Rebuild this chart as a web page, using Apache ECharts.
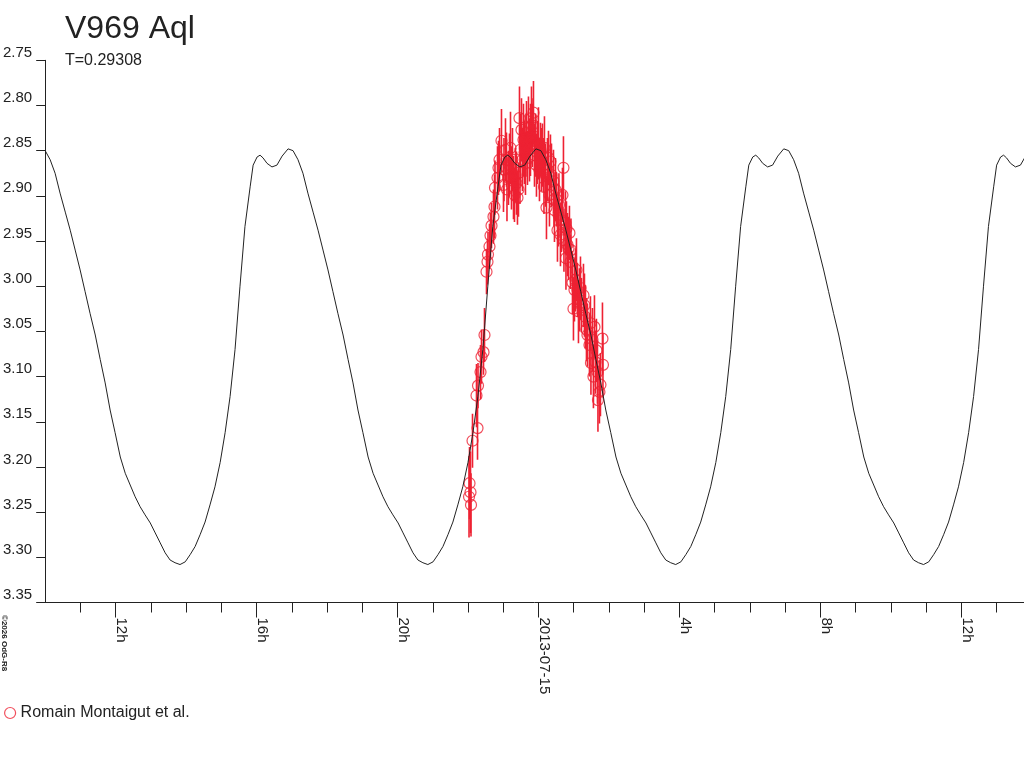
<!DOCTYPE html>
<html>
<head>
<meta charset="utf-8">
<title>V969 Aql</title>
<script src="https://cdn.jsdelivr.net/npm/echarts@6.0.0/dist/echarts.min.js"></script>
<style>
html,body{margin:0;padding:0;background:#fff;}
#chart{width:1024px;height:768px;}
</style>
</head>
<body>
<div id="chart"></div>
<script>
// time axis in hours UT counted from 2013-07-14 0h
var xMin = 10, xMax = 37.78;
var majorTicks = [12, 16, 20, 24, 28, 32, 36];
var majorLabels = ['12h', '16h', '20h', '2013-07-15', '4h', '8h', '12h'];

// model light curve, one cycle (phase 0 at 10h)
var periodDays = 0.29308;
var epoch = 10;
var modelPhase = [0, .020, .040, .060, .081, .101, .121, .141, .161, .181,
	.202, .222, .242, .262, .282, .303, .323, .343, .363, .383,
	.403, .424, .444, .464, .484, .504, .524, .544, .565, .585,
	.605, .625, .645, .665, .685, .706, .726, .746, .766, .786,
	.806, .827, .839, .855, .867, .879, .895, .915, .935, .956, .980];
var modelMag = [2.850, 2.860, 2.875, 2.897, 2.918, 2.938, 2.960, 2.982, 3.006, 3.030,
	3.054, 3.081, 3.107, 3.137, 3.162, 3.189, 3.207, 3.220, 3.233, 3.244,
	3.253, 3.262, 3.273, 3.284, 3.295, 3.303, 3.306, 3.308, 3.305, 3.297,
	3.288, 3.275, 3.261, 3.242, 3.222, 3.195, 3.162, 3.122, 3.070, 3.000,
	2.934, 2.890, 2.866, 2.857, 2.855, 2.858, 2.864, 2.868, 2.866, 2.856, 2.848];

// observations (Romain Montaigut et al.)
var obsTime = [22.043, 22.071, 22.085, 22.029, 22.128, 22.270, 22.241, 22.284, 22.355, 22.383,
	22.440, 22.468, 22.525, 22.553, 22.567, 22.610, 22.638, 22.667, 22.723, 22.752,
	22.766, 22.837, 22.865, 22.894, 22.950, 23.007, 23.021, 23.064, 23.092, 23.106,
	23.149, 23.177, 23.206, 23.234, 23.262, 23.291, 23.319, 23.348, 23.376, 23.404,
	23.433, 23.461, 23.475, 23.489, 23.518, 23.546, 23.574, 23.603, 23.631, 23.645,
	23.660, 23.688, 23.716, 23.745, 23.773, 23.801, 23.815, 23.830, 23.858, 23.887,
	23.915, 23.943, 23.972, 24.000, 24.028, 24.057, 24.085, 24.113, 24.142, 24.156,
	24.170, 24.199, 24.227, 24.255, 24.284, 24.312, 24.340, 24.369, 24.426, 24.440,
	24.454, 24.482, 24.511, 24.539, 24.567, 24.581, 24.624, 24.652, 24.681, 24.709,
	24.723, 24.766, 24.780, 24.794, 24.823, 24.851, 24.879, 24.908, 24.922, 24.965,
	24.993, 25.021, 25.050, 25.078, 25.106, 25.135, 25.163, 25.192, 25.220, 25.277,
	25.305, 25.333, 25.362, 25.390, 25.447, 25.475, 25.489, 25.532, 25.560, 25.589,
	25.617, 25.645, 25.674, 25.688, 25.730, 25.759, 25.816, 25.830];
var obsMag = [3.218, 3.228, 3.242, 3.233, 3.171, 3.157, 3.121, 3.110, 3.095, 3.078,
	3.073, 3.054, 2.984, 2.973, 2.965, 2.956, 2.944, 2.933, 2.923, 2.912,
	2.891, 2.880, 2.869, 2.860, 2.839, 2.888, 2.871, 2.849, 2.860, 2.893,
	2.880, 2.866, 2.847, 2.880, 2.860, 2.891, 2.899, 2.877, 2.886, 2.902,
	2.893, 2.814, 2.874, 2.849, 2.827, 2.860, 2.838, 2.852, 2.864, 2.844,
	2.830, 2.858, 2.825, 2.849, 2.838, 2.814, 2.822, 2.833, 2.808, 2.855,
	2.844, 2.866, 2.852, 2.842, 2.871, 2.849, 2.860, 2.855, 2.866, 2.890,
	2.847, 2.877, 2.913, 2.871, 2.858, 2.899, 2.862, 2.877, 2.884, 2.904,
	2.916, 2.893, 2.904, 2.938, 2.921, 2.910, 2.943, 2.927, 2.899, 2.869,
	2.949, 2.930, 2.969, 2.936, 2.954, 2.958, 2.941, 2.973, 2.960, 2.996,
	3.025, 3.004, 2.993, 2.982, 3.004, 3.028, 3.015, 3.002, 3.021, 3.010,
	3.021, 3.034, 3.048, 3.054, 3.065, 3.041, 3.085, 3.059, 3.100, 3.045,
	3.084, 3.071, 3.095, 3.126, 3.117, 3.109, 3.058, 3.087];
var obsErr = [.040, .045, .035, .045, .030, .035, .035, .025, .030, .030,
	.025, .030, .025, .025, .025, .025, .025, .025, .030, .035,
	.030, .035, .030, .035, .035, .030, .035, .035, .030, .035,
	.030, .035, .040, .035, .035, .035, .030, .030, .035, .030,
	.030, .035, .035, .040, .035, .035, .040, .035, .035, .035,
	.035, .030, .035, .035, .040, .035, .030, .035, .035, .035,
	.035, .035, .035, .040, .035, .030, .035, .035, .030, .030,
	.035, .035, .035, .035, .030, .035, .030, .035, .035, .030,
	.035, .035, .030, .035, .035, .035, .035, .035, .030, .035,
	.035, .035, .035, .030, .035, .035, .030, .030, .035, .035,
	.035, .035, .035, .035, .030, .035, .035, .035, .030, .035,
	.035, .035, .035, .035, .035, .030, .035, .035, .035, .035,
	.035, .035, .035, .035, .035, .035, .040, .035];

var red = '#ee2233';
var ink = '#222';
var font = 'Liberation Sans, Arial, sans-serif';

var minorTicks = [];
for (var h = Math.ceil(xMin) + 1; h < xMax; h++) {
	minorTicks.push(h);
}

var period = periodDays * 24;
var modelData = [];
for (var k = 0; epoch + k * period < xMax; k++) {
	for (var j = 0; j < modelPhase.length; j++) {
		modelData.push([epoch + (k + modelPhase[j]) * period, modelMag[j]]);
	}
}
var obsData = obsTime.map(function (t, i) {
	return [t, obsMag[i], obsErr[i]];
});

var chart = echarts.init(document.getElementById('chart'));
var option = {
	animation: false,
	backgroundColor: '#fff',
	title: {
		text: 'V969 Aql',
		subtext: 'T=0.29308',
		left: 65,
		top: 13,
		itemGap: 8,
		padding: 0,
		textStyle: {fontSize: 32, fontWeight: 'normal', color: ink, fontFamily: font},
		subtextStyle: {fontSize: 16, color: ink, fontFamily: font}
	},
	legend: {
		data: [{name: 'Romain Montaigut et al.', icon: 'circle',
			itemStyle: {color: 'transparent', borderColor: red, borderWidth: 1.2}}],
		left: 4,
		top: 705,
		padding: 0,
		itemWidth: 11,
		itemHeight: 11,
		itemGap: 6,
		selectedMode: false,
		textStyle: {fontSize: 16, color: ink, fontFamily: font}
	},
	graphic: [{
		type: 'text',
		x: 0,
		y: 615,
		rotation: -Math.PI / 2,
		style: {text: '\u00a92026 OdG-R8', font: 'bold 8px ' + font, fill: ink,
			textAlign: 'left', textVerticalAlign: 'bottom'}
	}],
	grid: {left: 45, right: 0, top: 60.3, bottom: 165.5, containLabel: false},
	xAxis: [{
		type: 'value',
		min: xMin,
		max: xMax,
		position: 'bottom',
		axisLine: {show: true, onZero: false, lineStyle: {color: ink, width: 1}},
		axisTick: {show: true, length: 15, customValues: majorTicks, lineStyle: {color: ink}},
		axisLabel: {
			show: true,
			customValues: majorTicks,
			rotate: -90,
			margin: 15,
			align: 'left',
			verticalAlign: 'bottom',
			fontSize: 15,
			color: ink,
			fontFamily: font,
			padding: [0, 0, -2, 0],
			formatter: function (v) {
				var i = majorTicks.indexOf(Math.round(v));
				return i >= 0 ? majorLabels[i] : '';
			}
		},
		splitLine: {show: false}
	}, {
		type: 'value',
		min: xMin,
		max: xMax,
		position: 'bottom',
		axisLine: {show: false, onZero: false},
		axisTick: {show: true, length: 10, customValues: minorTicks, lineStyle: {color: ink}},
		axisLabel: {show: false},
		splitLine: {show: false}
	}],
	yAxis: {
		type: 'value',
		inverse: true,
		min: 2.75,
		max: 3.35,
		interval: 0.05,
		axisLine: {show: true, onZero: false, lineStyle: {color: ink, width: 1}},
		axisTick: {show: true, length: 9, lineStyle: {color: ink}},
		axisLabel: {
			margin: 13,
			fontSize: 15,
			color: ink,
			fontFamily: font,
			verticalAlign: 'bottom',
			formatter: function (v) { return v.toFixed(2); }
		},
		splitLine: {show: false}
	},
	series: [{
		name: 'errors',
		type: 'custom',
		xAxisIndex: 0,
		clip: true,
		z: 2,
		silent: true,
		data: obsData,
		encode: {x: 0, y: 1},
		renderItem: function (params, api) {
			var t = api.value(0), m = api.value(1), e = api.value(2);
			var p1 = api.coord([t, m - e]);
			var p2 = api.coord([t, m + e]);
			return {
				type: 'line',
				shape: {x1: p1[0], y1: p1[1], x2: p2[0], y2: p2[1]},
				style: {stroke: red, lineWidth: 1.6}
			};
		}
	}, {
		name: 'Romain Montaigut et al.',
		type: 'scatter',
		xAxisIndex: 0,
		z: 3,
		silent: true,
		symbol: 'circle',
		symbolSize: 11,
		itemStyle: {color: 'transparent', borderColor: red, borderWidth: 1.2},
		data: obsData
	}, {
		name: 'model',
		type: 'line',
		xAxisIndex: 0,
		z: 4,
		silent: true,
		showSymbol: false,
		symbol: 'none',
		clip: true,
		lineStyle: {color: ink, width: 1},
		data: modelData
	}]
};
chart.setOption(option);
</script>
</body>
</html>
